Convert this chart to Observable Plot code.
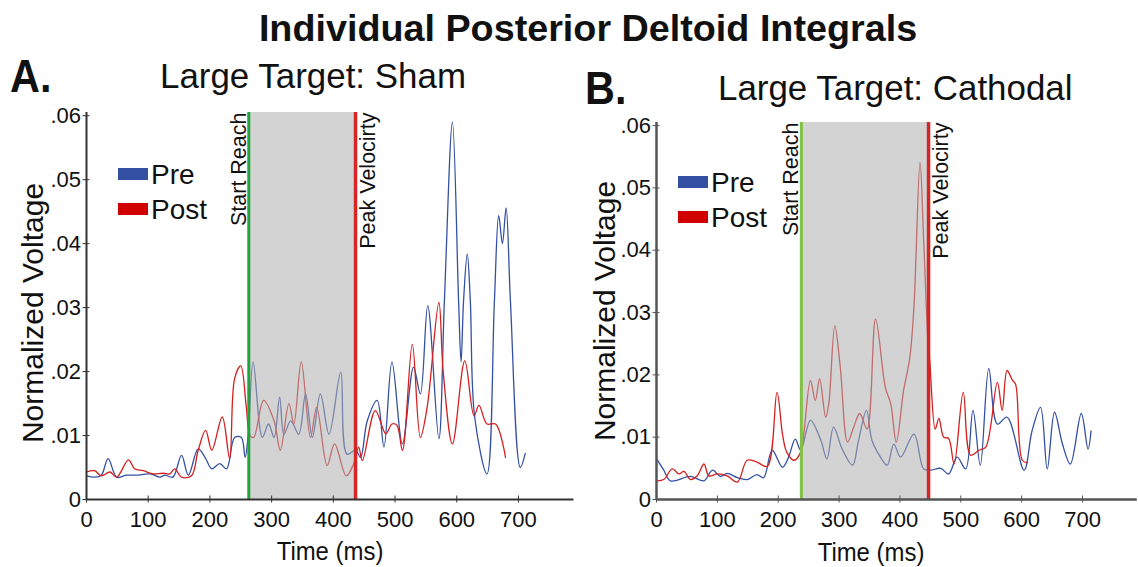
<!DOCTYPE html>
<html><head><meta charset="utf-8">
<script src="https://cdn.jsdelivr.net/npm/d3@7"></script>
<script src="https://cdn.jsdelivr.net/npm/@observablehq/plot@0.6"></script>
<style>
body{margin:0;background:#fff}
#wrap{position:relative;width:1138px;height:567px;overflow:hidden;background:#fff}
.panel{position:absolute;top:100px}
#overlay{position:absolute;left:0;top:0;pointer-events:none}
</style></head>
<body>
<div id="wrap">
  <div id="pa" class="panel" style="left:0px"></div>
  <div id="pb" class="panel" style="left:576px"></div>
  <svg id="overlay" width="1138" height="567"></svg>
</div>
<script>
// ---------- data (time in ms, normalized voltage) ----------
const seriesNames = ["Pre", "Post"];
const xTicks = [0, 100, 200, 300, 400, 500, 600, 700];
const yTicks = [0, 0.01, 0.02, 0.03, 0.04, 0.05, 0.06];

// Panel A: Large Target: Sham
const shamStartReach = 263;
const shamPeakVelocity = 436;
const shamPre = [[0,.0037],[13,.0035],[24,.0038],[35,.0064],[49,.0035],[65,.0038],[81,.0038],[103,.0040],[119,.0035],[127,.0038],[140,.0035],[154,.0069],[165,.0038],[181,.0079],[192,.0066],[203,.0048],[216,.0056],[227,.0048],[240,.0097],[251,.0097],[257,.0066],[262,.0100],[270,.0215],[285,.0097],[295,.0118],[304,.0097],[313,.0160],[320,.0102],[331,.0123],[344,.0102],[355,.0165],[366,.0097],[379,.0165],[393,.0102],[412,.0199],[422,.0071],[436,.0077],[444,.0066],[455,.0123],[471,.0155],[482,.0082],[495,.0215],[512,.0087],[530,.0207],[541,.0165],[553,.0303],[571,.0095],[580,.0311],[593,.0590],[603,.0310],[607,.0215],[611,.0310],[617,.0384],[622,.0310],[629,.0129],[649,.0040],[661,.0310],[668,.0444],[674,.0400],[680,.0456],[687,.0310],[703,.0050],[711,.0072]];
const shamPost = [[0,.0043],[13,.0045],[24,.0037],[38,.0043],[49,.0035],[68,.0062],[78,.0048],[92,.0045],[108,.0040],[124,.0041],[135,.0040],[143,.0048],[154,.0035],[170,.0037],[181,.0077],[193,.0108],[203,.0077],[220,.0129],[232,.0064],[240,.0189],[250,.0209],[259,.0144],[265,.0100],[271,.0097],[287,.0155],[304,.0123],[314,.0077],[328,.0150],[336,.0118],[348,.0215],[363,.0097],[373,.0144],[390,.0053],[402,.0087],[421,.0037],[433,.0056],[441,.0082],[447,.0061],[468,.0139],[485,.0103],[495,.0118],[503,.0116],[512,.0077],[528,.0243],[541,.0097],[552,.0144],[571,.0308],[578,.0200],[593,.0087],[613,.0217],[628,.0131],[636,.0147],[649,.0118],[663,.0118],[679,.0066]];

// Panel B: Large Target: Cathodal
const cathStartReach = 238;
const cathPeakVelocity = 447;
const cathPre = [[1,.0064],[12,.0047],[23,.0030],[56,.0037],[78,.0030],[92,.0047],[105,.0037],[116,.0042],[133,.0035],[149,.0032],[165,.0040],[176,.0035],[190,.0079],[207,.0052],[217,.0068],[228,.0097],[237,.0079],[253,.0127],[270,.0095],[280,.0065],[291,.0116],[305,.0081],[322,.0055],[332,.0095],[345,.0143],[354,.0095],[368,.0068],[379,.0055],[390,.0089],[401,.0068],[423,.0105],[439,.0049],[450,.0047],[467,.0050],[480,.0041],[494,.0068],[508,.0049],[520,.0143],[532,.0055],[546,.0210],[560,.0121],[576,.0132],[604,.0047],[617,.0110],[631,.0148],[642,.0049],[654,.0140],[667,.0089],[680,.0057],[698,.0138],[709,.0081],[714,.0110]];
const cathPost = [[1,.0030],[12,.0032],[26,.0049],[37,.0041],[45,.0045],[56,.0032],[67,.0038],[78,.0057],[86,.0038],[100,.0041],[116,.0038],[133,.0028],[149,.0063],[165,.0060],[182,.0053],[198,.0172],[207,.0105],[214,.0076],[226,.0063],[237,.0076],[242,.0105],[253,.0191],[261,.0159],[268,.0194],[278,.0132],[283,.0153],[293,.0279],[302,.0212],[314,.0092],[324,.0116],[334,.0138],[346,.0113],[360,.0290],[376,.0180],[385,.0153],[394,.0092],[406,.0175],[416,.0226],[423,.0309],[433,.0541],[439,.0416],[446,.0255],[449,.0223],[458,.0113],[464,.0130],[472,.0100],[480,.0098],[489,.0057],[504,.0172],[516,.0071],[530,.0079],[541,.0084],[560,.0188],[568,.0143],[576,.0207],[585,.0191],[590,.0185],[601,.0063],[609,.0059]];

// ---------- styles ----------
const BLUE = "#3450a3";
const RED = "#d41f1f";
const FONT = "'Liberation Sans', Arial, sans-serif";
const toRows = arr => arr.map(([t, v]) => ({t, v}));
const yFmt = d => d === 0 ? "0" : d.toFixed(2).slice(1);

function panel(pre, post, start, peak, o) {
  return Plot.plot({
    width: o.width, height: 467,
    marginLeft: o.ml, marginRight: o.mr, marginTop: o.mt, marginBottom: 68,
    x: {domain: [0, 790]},
    y: {domain: [0, 0.0605]},
    style: {background: "transparent", fontFamily: FONT, fontSize: "22px", color: "#111", overflow: "visible"},
    marks: [
      Plot.line(toRows(pre), {x: "t", y: "v", stroke: BLUE, strokeWidth: 1.3, curve: "catmull-rom"}),
      Plot.line(toRows(post), {x: "t", y: "v", stroke: RED, strokeWidth: 1.3, curve: "catmull-rom"}),
      Plot.rect([{start, peak}], {x1: "start", x2: "peak", fill: "#aeaeae", fillOpacity: 0.55}),
      Plot.ruleX([start], {stroke: o.green, strokeWidth: 3}),
      Plot.ruleX([peak], {stroke: "#d42626", strokeWidth: 3.5}),
      Plot.text(["Start Reach"], {x: () => start, text: d => d, frameAnchor: "top", rotate: -90, textAnchor: "end", lineAnchor: "bottom", dx: -3, fontSize: 21.5, fill: "#111"}),
      Plot.text(["Peak Velocirty"], {x: () => peak, text: d => d, frameAnchor: "top", rotate: -90, textAnchor: "end", lineAnchor: "top", dx: 4, fontSize: 21.5, fill: "#111"}),
      Plot.ruleX([0], {stroke: o.axis, strokeWidth: o.axisW}),
      Plot.ruleY([0], {stroke: o.axis, strokeWidth: o.axisW}),
      Plot.axisY({ticks: yTicks, tickFormat: yFmt, tickSize: 7, dx: 3.5, tickPadding: 2, label: null, stroke: o.axis, fill: "#111", fontSize: 22}),
      Plot.axisX({ticks: xTicks, tickSize: 7, dy: -3.5, tickPadding: 8, label: null, stroke: o.axis, fill: "#111", fontSize: 22})
    ]
  });
}

document.getElementById("pa").append(panel(shamPre, shamPost, shamStartReach, shamPeakVelocity,
  {width: 576, ml: 86, mr: 2.5, mt: 12, green: "#23a23c", axis: "#333", axisW: 2}));
document.getElementById("pb").append(panel(cathPre, cathPost, cathStartReach, cathPeakVelocity,
  {width: 562, ml: 80, mr: 1.2, mt: 22, green: "#80c342", axis: "#555", axisW: 2.5}));

// ---------- titles, labels, legends ----------
const ov = d3.select("#overlay");
function txt(s, x, y, size, opts = {}) {
  const sx = opts.sx || 1;
  const rot = opts.rotate || 0;
  return ov.append("text").attr("x", 0).attr("y", 0).text(s)
    .attr("transform", `translate(${x},${y}) rotate(${rot}) scale(${sx},1)`)
    .attr("font-size", size).attr("font-family", FONT)
    .attr("font-weight", opts.weight || "normal").attr("fill", "#111")
    .attr("text-anchor", opts.anchor || "start");
}
txt("Individual Posterior Deltoid Integrals", 588, 41, 37, {weight: "bold", anchor: "middle", sx: 1.02});
txt("A.", 10, 92, 46, {weight: "bold", sx: 0.9});
txt("Large Target: Sham", 160, 88, 36, {sx: 0.97});
txt("B.", 585, 104, 46, {weight: "bold", sx: 0.9});
txt("Large Target: Cathodal", 718, 100, 36, {sx: 0.97});
txt("Normalized Voltage", 43, 313, 30, {anchor: "middle", rotate: -90});
txt("Normalized Voltage", 615, 311, 30, {anchor: "middle", rotate: -90});
txt("Time (ms)", 330, 560, 26, {anchor: "middle", sx: 0.92});
txt("Time (ms)", 871, 561, 26, {anchor: "middle", sx: 0.92});

const legendColors = [BLUE, "#d00000"];
function legend(x, y0, gap) {
  seriesNames.forEach((name, i) => {
    const cy = y0 + i * gap;
    ov.append("rect").attr("x", x).attr("y", cy - 6).attr("width", 30).attr("height", 12).attr("fill", legendColors[i]);
    txt(name, x + 33, cy + 10, 28);
  });
}
legend(118, 174, 35);
legend(678, 182, 35);
</script>
</body></html>
